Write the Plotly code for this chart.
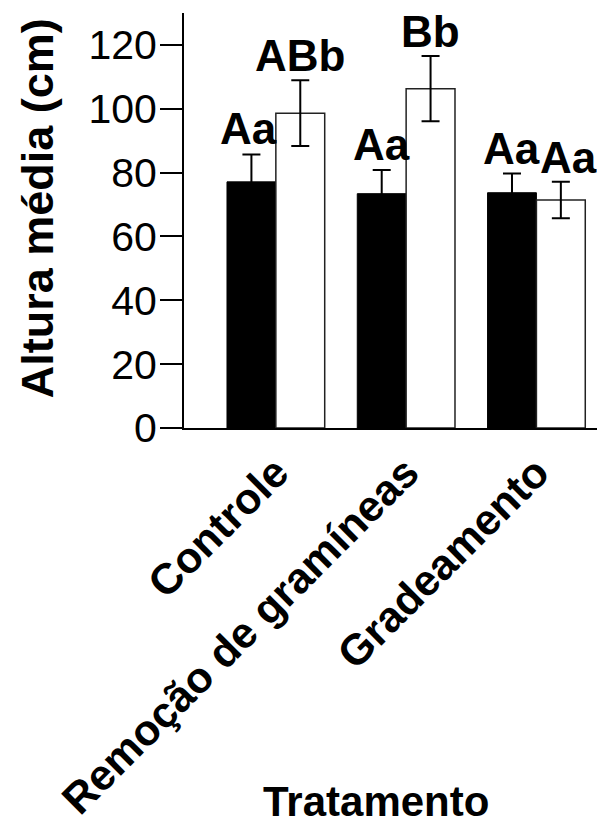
import plotly.graph_objects as go

# Tratamentos e médias de altura (cm) com erro padrão
categorias = ["Controle", "Remoção de gramíneas", "Gradeamento"]
media_preto = [77.1, 73.4, 73.7]
erro_preto = [8.6, 7.4, 6.0]
media_branco = [98.6, 106.3, 71.4]
erro_branco = [10.3, 10.2, 5.7]
letras_preto = ["Aa", "Aa", "Aa"]
letras_branco = ["ABb", "Bb", "Aa"]
ticks_y = [0, 20, 40, 60, 80, 100, 120]

FONTE = "Liberation Sans, Arial, Helvetica, sans-serif"
LARG_BARRA = 0.375

fig = go.Figure()
fig.add_trace(go.Bar(
    x=categorias, y=media_preto, name="Grupo 1",
    marker=dict(color="black", line=dict(color="black", width=1)),
    error_y=dict(type="data", array=erro_preto, color="black", thickness=2, width=9),
))
fig.add_trace(go.Bar(
    x=categorias, y=media_branco, name="Grupo 2",
    marker=dict(color="white", line=dict(color="#222222", width=1.5)),
    error_y=dict(type="data", array=erro_branco, color="black", thickness=2, width=9),
))

# Letras de significância acima das barras de erro
anots = []
for i in range(len(categorias)):
    anots.append(dict(x=i - LARG_BARRA / 2, y=media_preto[i] + erro_preto[i],
                      text=letras_preto[i], xref="x", yref="y",
                      showarrow=False, yanchor="bottom", yshift=-1,
                      xshift=-3 if i == 0 else 0,
                      font=dict(family=FONTE, size=44, color="black", weight="bold")))
    anots.append(dict(x=i + LARG_BARRA / 2, y=media_branco[i] + erro_branco[i],
                      text=letras_branco[i], xref="x", yref="y",
                      showarrow=False, yanchor="bottom", yshift=-2,
                      xshift=8 if i == 2 else 0,
                      font=dict(family=FONTE, size=44, color="black", weight="bold")))

# Títulos dos eixos
anots.append(dict(text="Altura média (cm)", xref="paper", yref="paper",
                  x=-0.354, y=0.529, textangle=-90, showarrow=False,
                  xanchor="center", yanchor="middle",
                  font=dict(family=FONTE, size=45, color="black", weight="bold")))
anots.append(dict(text="Tratamento", xref="paper", yref="paper",
                  x=0.464, y=-0.9, showarrow=False,
                  xanchor="center", yanchor="middle",
                  font=dict(family=FONTE, size=42, color="black", weight="bold")))

fig.update_layout(
    width=597, height=824,
    margin=dict(l=184, r=0, t=13, b=396, pad=0),
    paper_bgcolor="white", plot_bgcolor="white",
    barmode="group", bargap=0.25, bargroupgap=0,
    showlegend=False,
    annotations=anots,
    xaxis=dict(
        type="category", range=[-0.705, 2.465],
        showline=True, linecolor="black", linewidth=2,
        ticks="", showgrid=False, zeroline=False,
        tickangle=-45,
        tickfont=dict(family=FONTE, size=43, color="black", weight="bold"),
    ),
    yaxis=dict(
        range=[0, 130], tickvals=ticks_y,
        showline=True, linecolor="black", linewidth=2,
        ticks="outside", ticklen=22, tickwidth=2, tickcolor="black",
        ticklabelstandoff=-5,
        showgrid=False, zeroline=False,
        tickfont=dict(family=FONTE, size=41, color="black"),
    ),
)

fig.write_html("out.html")
